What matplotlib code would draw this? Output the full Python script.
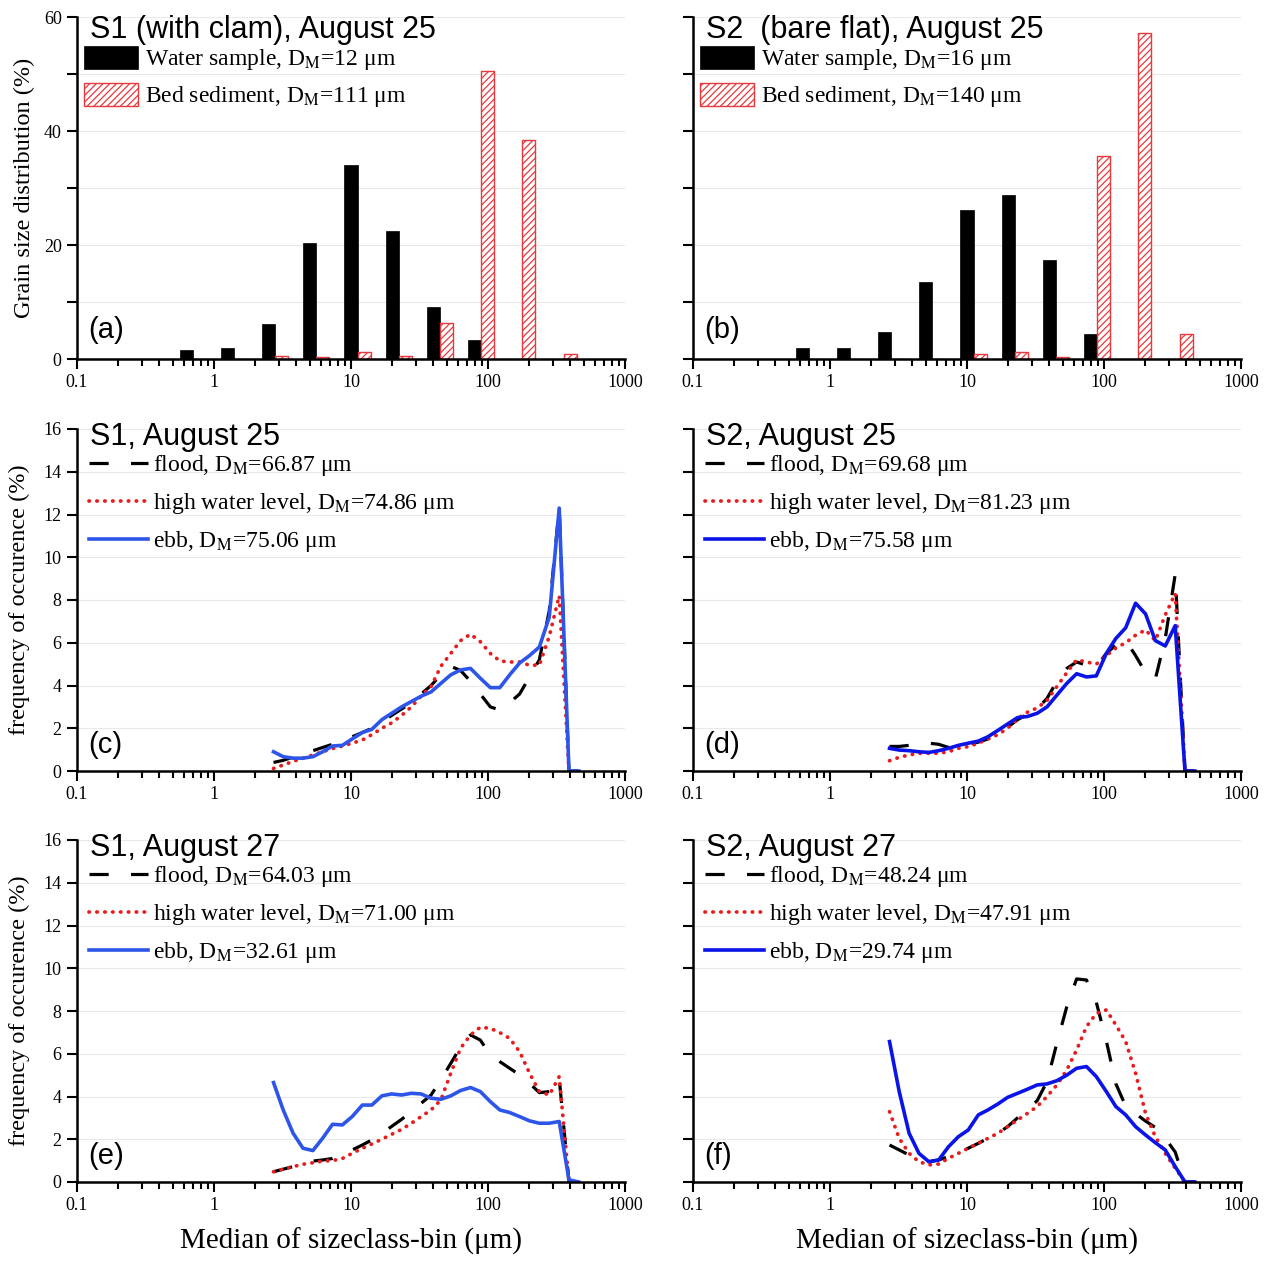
import numpy as np
import matplotlib
matplotlib.use('Agg')
import matplotlib.pyplot as plt

plt.rcParams['font.family'] = ['Liberation Serif', 'DejaVu Serif']
plt.rcParams['mathtext.fontset'] = 'stix'
plt.rcParams['hatch.linewidth'] = 0.9

# ---- bar panels (a), (b): class centres of the water sample bars
bar_bins = [0.63, 1.25, 2.5, 5, 10, 20, 40, 80, 160, 320]
water_s1 = [1.5, 2.0, 6.1, 20.4, 34.1, 22.4, 9.1, 3.4, 0, 0]
bed_s1 = [0, 0, 0.6, 0.4, 1.3, 0.5, 6.4, 50.6, 38.5, 0.8]
water_s2 = [1.9, 2.0, 4.7, 13.5, 26.2, 28.7, 17.4, 4.3, 0, 0]
bed_s2 = [0, 0, 0, 0, 0.8, 1.3, 0.4, 35.6, 57.2, 4.4]
dm_water = ['12', '16']
dm_bed = ['111', '140']

# ---- LISST size class medians (um)
lisst_bins = [2.72, 3.2, 3.78, 4.46, 5.27, 6.21, 7.33, 8.65, 10.2, 12.1, 14.2, 16.8,
              19.8, 23.4, 27.6, 32.5, 38.4, 45.3, 53.5, 63.1, 74.5, 87.9, 104, 122,
              144, 170, 201, 237, 280, 331, 390, 460]

# S1 August 25 (c)
flood_c = [0.4, 0.5, 0.65, 0.8, 0.95, 1.1, 1.25, 1.4, 1.6, 1.8, 2.0, 2.3, 2.6, 2.9, 3.2, 3.6,
           4.0, 4.5, 4.9, 4.7, 4.2, 3.6, 3.0, 2.85, 3.2, 3.6, 4.4, 5.2, 7.5, 12.3, 0, 0]
hwl_c = [0.12, 0.28, 0.45, 0.6, 0.75, 0.9, 1.05, 1.17, 1.3, 1.45, 1.7, 2.0, 2.25, 2.6, 3.0, 3.5,
         3.95, 4.9, 5.5, 6.1, 6.4, 6.05, 5.5, 5.15, 5.1, 5.1, 4.95, 4.95, 6.3, 8.2, 0, 0]
ebb_c = [0.9, 0.67, 0.6, 0.6, 0.67, 0.9, 1.17, 1.2, 1.5, 1.8, 1.95, 2.4, 2.7, 3.0, 3.25, 3.5,
         3.7, 4.1, 4.5, 4.73, 4.8, 4.34, 3.9, 3.9, 4.5, 5.05, 5.4, 5.8, 7.2, 12.3, 0, 0]

# S2 August 25 (d)
flood_d = [1.15, 1.15, 1.2, 1.25, 1.3, 1.25, 1.1, 1.15, 1.25, 1.35, 1.5, 1.75, 2.05, 2.4, 2.65, 2.9,
           3.4, 4.2, 4.8, 5.1, 4.95, 4.9, 5.5, 5.9, 6.1, 5.4, 4.6, 4.3, 6.2, 9.2, 0, 0]
hwl_d = [0.48, 0.64, 0.75, 0.83, 0.83, 0.83, 0.9, 1.06, 1.14, 1.3, 1.5, 1.7, 2.0, 2.45, 2.75, 2.95,
         3.3, 3.95, 4.6, 5.2, 5.1, 5.0, 5.4, 5.75, 6.0, 6.35, 6.6, 6.1, 7.3, 8.3, 0, 0]
ebb_d = [1.06, 0.98, 0.95, 0.9, 0.87, 0.95, 1.06, 1.2, 1.3, 1.4, 1.6, 1.9, 2.2, 2.5, 2.55, 2.7,
         3.0, 3.55, 4.1, 4.55, 4.4, 4.45, 5.5, 6.2, 6.7, 7.85, 7.35, 6.1, 5.85, 6.8, 0, 0]

# S1 August 27 (e)
flood_e = [0.48, 0.6, 0.72, 0.84, 0.98, 1.03, 1.1, 1.27, 1.5, 1.73, 1.97, 2.28, 2.6, 2.93, 3.3, 3.68,
           4.07, 4.78, 5.55, 6.33, 6.88, 6.64, 5.94, 5.63, 5.32, 5.01, 4.62, 4.18, 4.23, 4.85, 0, 0]
hwl_e = [0.48, 0.6, 0.72, 0.83, 0.9, 0.98, 1.0, 1.1, 1.34, 1.58, 1.78, 2.0, 2.23, 2.46, 2.75, 3.06,
         3.37, 3.84, 5.09, 6.26, 6.88, 7.24, 7.19, 6.99, 6.72, 6.1, 5.09, 4.23, 4.07, 4.93, 0, 0]
ebb_e = [4.65, 3.37, 2.28, 1.58, 1.47, 2.05, 2.7, 2.67, 3.06, 3.6, 3.6, 4.03, 4.12, 4.07, 4.15, 4.12,
         3.92, 3.87, 4.03, 4.28, 4.42, 4.23, 3.76, 3.37, 3.25, 3.06, 2.86, 2.75, 2.75, 2.83, 0.1, 0]

# S2 August 27 (f)
flood_f = [1.73, 1.5, 1.26, 1.03, 0.95, 1.03, 1.19, 1.42, 1.58, 1.81, 2.04, 2.28, 2.59, 3.0, 3.4, 3.8,
           4.7, 6.5, 8.2, 9.5, 9.45, 8.4, 6.6, 4.6, 3.55, 3.2, 2.85, 2.55, 2.05, 1.4, 0, 0]
hwl_f = [3.29, 2.04, 1.34, 0.95, 0.8, 0.84, 1.11, 1.34, 1.58, 1.81, 2.04, 2.28, 2.59, 2.9, 3.21, 3.53,
         4.0, 4.54, 5.24, 6.18, 7.27, 7.89, 8.05, 7.35, 6.57, 5.09, 3.21, 2.12, 1.34, 0.64, 0, 0]
ebb_f = [6.57, 4.23, 2.28, 1.34, 0.95, 1.03, 1.65, 2.12, 2.43, 3.14, 3.37, 3.65, 3.96, 4.15, 4.34, 4.54,
         4.59, 4.74, 5.0, 5.32, 5.4, 4.93, 4.23, 3.53, 3.14, 2.59, 2.2, 1.84, 1.5, 0.72, 0, 0]

dm_lines = {'c': ['66.87', '74.86', '75.06'], 'd': ['69.68', '81.23', '75.58'],
            'e': ['64.03', '71.00', '32.61'], 'f': ['48.24', '47.91', '29.74']}

W, H = 1276, 1262
fig = plt.figure(figsize=(W / 100, H / 100), dpi=100)
lefts = [77, 693]
bottoms = [359, 771, 1182]


def make_ax(col, row):
    ax = fig.add_axes([lefts[col] / W, 1 - bottoms[row] / H, 548 / W, 342 / H])
    ax.set_xscale('log')
    ax.set_xlim(0.1, 1000)
    ax.set_xticks([0.1, 1, 10, 100, 1000], ['0.1', '1', '10', '100', '1000'])
    for s in ['top', 'right']:
        ax.spines[s].set_visible(False)
    for s in ['left', 'bottom']:
        ax.spines[s].set_linewidth(1.8)
    ax.tick_params(which='both', direction='out', width=1.5, labelsize=13)
    ax.tick_params(which='major', length=7, pad=4)
    ax.tick_params(axis='x', which='minor', length=5)
    ax.tick_params(axis='y', which='minor', length=7)
    if col == 1:
        ax.tick_params(axis='y', labelleft=False)
    ax.set_axisbelow(True)
    ax.grid(axis='y', which='both', color='#e9e9e9', lw=0.8)
    ax.grid(axis='x', visible=False, which='both')
    return ax


sans = ['Liberation Sans', 'DejaVu Sans']
bw = 0.095  # bar width in decades
bar_data = [(water_s1, bed_s1, 'S1 (with clam), August 25', '(a)'),
            (water_s2, bed_s2, 'S2  (bare flat), August 25', '(b)')]
for col, (water, bed, title, tag) in enumerate(bar_data):
    ax = make_ax(col, 0)
    c = np.array(bar_bins)
    lo, hi, hi2 = c * 10 ** (-bw / 2), c * 10 ** (bw / 2), c * 10 ** (1.5 * bw)
    ax.bar(lo, water, width=hi - lo, align='edge', color='black', edgecolor='black', lw=0.5,
           label='Water sample, D$_\\mathrm{M}$=' + dm_water[col] + ' μm')
    ax.bar(hi, bed, width=hi2 - hi, align='edge', color='white', edgecolor='#e8383d',
           hatch='/////', lw=1.0,
           label='Bed sediment, D$_\\mathrm{M}$=' + dm_bed[col] + ' μm')
    ax.set_ylim(0, 60)
    ax.set_yticks([0, 20, 40, 60])
    ax.set_yticks([10, 30, 50], minor=True)
    ax.text(0.024, 0.962, title, transform=ax.transAxes, fontsize=22, family=sans, va='center')
    ax.text(0.02, 0.085, tag, transform=ax.transAxes, fontsize=21, family=sans, va='center')
    ax.legend(loc='upper left', bbox_to_anchor=(0.012, 0.915), frameon=False, fontsize=17,
              handlelength=2.3, handleheight=1.1, handletextpad=0.3, labelspacing=0.45,
              borderpad=0, borderaxespad=0)
    if col == 0:
        ax.set_ylabel('Grain size distribution (%)', fontsize=17.5, labelpad=6)

line_panels = [(0, 1, flood_c, hwl_c, ebb_c, 'S1, August 25', '(c)', 'c', '#2d55ea'),
               (1, 1, flood_d, hwl_d, ebb_d, 'S2, August 25', '(d)', 'd', '#0a14e6'),
               (0, 2, flood_e, hwl_e, ebb_e, 'S1, August 27', '(e)', 'e', '#2d55ea'),
               (1, 2, flood_f, hwl_f, ebb_f, 'S2, August 27', '(f)', 'f', '#0a14e6')]
for col, row, flood, hwl, ebb, title, tag, key, blue in line_panels:
    ax = make_ax(col, row)
    dms = dm_lines[key]
    ax.plot(lisst_bins, flood, color='black', lw=2.3, linestyle=(0, (6, 7)),
            label='flood, D$_\\mathrm{M}$=' + dms[0] + ' μm')
    ax.plot(lisst_bins, hwl, color='#e81c1c', lw=2.7, linestyle=(0, (0.1, 2.0)),
            dash_capstyle='round', label='high water level, D$_\\mathrm{M}$=' + dms[1] + ' μm')
    ax.plot(lisst_bins, ebb, color=blue, lw=2.6,
            label='ebb, D$_\\mathrm{M}$=' + dms[2] + ' μm')
    ax.set_ylim(0, 16)
    ax.set_yticks(np.arange(0, 17, 2))
    ax.text(0.024, 0.977, title, transform=ax.transAxes, fontsize=22, family=sans, va='center')
    ax.text(0.02, 0.076, tag, transform=ax.transAxes, fontsize=21, family=sans, va='center')
    ax.legend(loc='upper left', bbox_to_anchor=(0.022, 0.93), frameon=False, fontsize=17,
              handlelength=2.5, handletextpad=0.2, labelspacing=0.55,
              borderpad=0, borderaxespad=0)
    if col == 0:
        ax.set_ylabel('frequency of occurence (%)', fontsize=17.5, labelpad=10)
    if row == 2:
        ax.set_xlabel('Median of sizeclass-bin (μm)', fontsize=21, labelpad=10)

fig.savefig('out.png', dpi=100, facecolor='white')
